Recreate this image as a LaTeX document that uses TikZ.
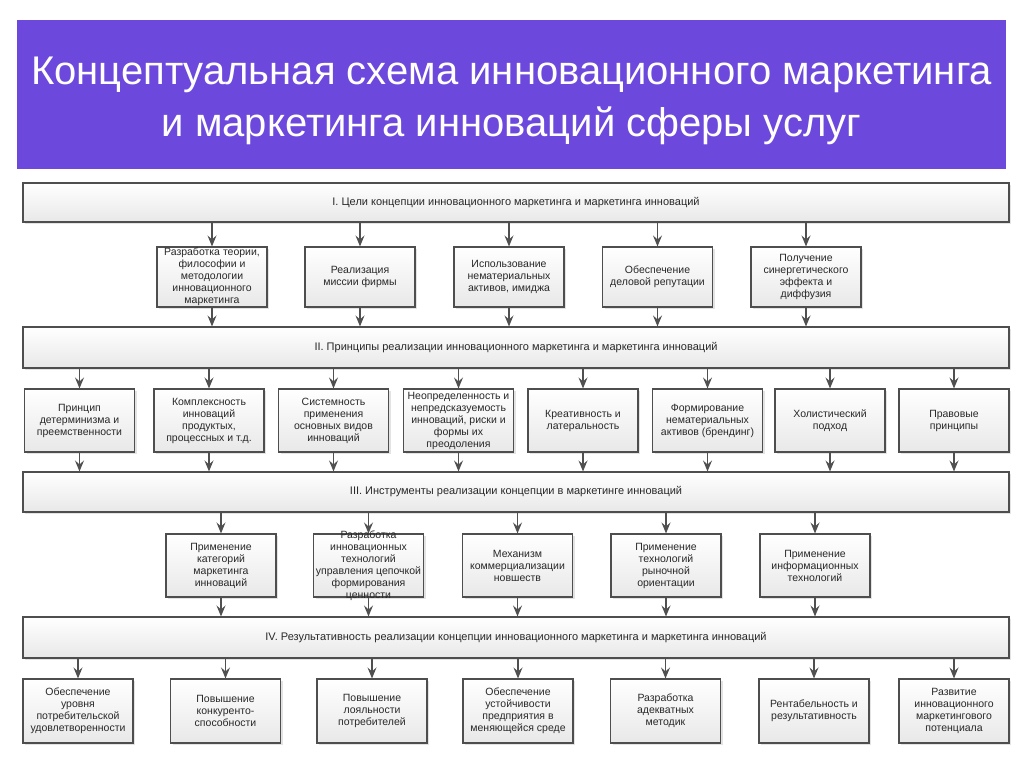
\documentclass[tikz,border=0pt]{standalone}
\usepackage{fontspec}
\setmainfont{Liberation Sans}
\usetikzlibrary{arrows.meta,shadows}
\definecolor{titlebg}{RGB}{108,72,221}
\definecolor{edgec}{RGB}{78,78,78}
\definecolor{arrowc}{RGB}{80,80,80}
\definecolor{txtc}{RGB}{40,40,40}
\begin{document}
\begin{tikzpicture}[x=1pt,y=-1pt,
  bxst/.style={draw=edgec, line width=1.1pt, top color=white, bottom color=black!9,
    drop shadow={shadow xshift=2pt,shadow yshift=-2pt,opacity=0.22},
    minimum width=110pt, minimum height=62pt, inner sep=1pt, align=center,
    font=\fontsize{10.5}{12}\selectfont, text=txtc},
  bandst/.style={bxst, minimum width=986pt, minimum height=40pt, font=\fontsize{11}{12}\selectfont},
  lblst/.style={align=center, font=\fontsize{10.5}{12}\selectfont, text=txtc, inner sep=0pt},
  arrst/.style={draw=arrowc, line width=1.2pt, -{Stealth[length=11pt,width=9pt,inset=4pt]}}
]
\useasboundingbox[fill=white] (0,0) rectangle (1024,768);

% title
\node[fill=titlebg, minimum width=989pt, minimum height=149pt, inner sep=0pt] (title) at (511.5,94.5) {};
\node[text=white, align=center, font=\fontsize{40}{52}\selectfont, inner sep=0pt] (titletext) at (511.5,100.5)
  {Концептуальная схема инновационного маркетинга\\и маркетинга инноваций сферы услуг};

% bands
\node[bandst, minimum height=39pt] (b1) at (516,202.5) {I. Цели концепции инновационного маркетинга и маркетинга инноваций};
\node[bandst, minimum height=41pt] (b2) at (516,347.5) {II. Принципы реализации инновационного маркетинга и маркетинга инноваций};
\node[bandst] (b3) at (516,492) {III. Инструменты реализации концепции в маркетинге инноваций};
\node[bandst, minimum height=41pt] (b4) at (516,637.5) {IV. Результативность реализации концепции инновационного маркетинга и маркетинга инноваций};

% row 1
\node[bxst, minimum height=60pt] (a1) at (212,277) {Разработка теории,\\философии и\\методологии\\инновационного\\маркетинга};
\node[bxst, minimum height=60pt] (a2) at (360,277) {Реализация\\миссии фирмы};
\node[bxst, minimum height=60pt] (a3) at (509,277) {Использование\\нематериальных\\активов, имиджа};
\node[bxst, minimum height=60pt] (a4) at (657.5,277) {Обеспечение\\деловой репутации};
\node[bxst, minimum height=60pt] (a5) at (806,277) {Получение\\синергетического\\эффекта и\\диффузия};

% row 2
\node[bxst, minimum height=63pt] (c1) at (79.5,420.5) {Принцип\\детерминизма и\\преемственности};
\node[bxst, minimum height=63pt] (c2) at (209,420.5) {Комплексность\\инноваций\\продуктых,\\процессных и т.д.};
\node[bxst, minimum height=63pt] (c3) at (333.5,420.5) {Системность\\применения\\основных видов\\инноваций};
\node[bxst, minimum height=63pt] (c4) at (458.5,420.5) {Неопределенность и\\непредсказуемость\\инноваций, риски и\\формы их\\преодоления};
\node[bxst, minimum height=63pt] (c5) at (583,420.5) {Креативность и\\латеральность};
\node[bxst, minimum height=63pt] (c6) at (707.5,420.5) {Формирование\\нематериальных\\активов (брендинг)};
\node[bxst, minimum height=63pt] (c7) at (830,420.5) {Холистический\\подход};
\node[bxst, minimum height=63pt] (c8) at (954,420.5) {Правовые\\принципы};

% row 3
\node[bxst, minimum height=63pt] (d1) at (221,565.5) {Применение\\категорий\\маркетинга\\инноваций};
\node[bxst, minimum height=63pt, label={[lblst]center:Разработка\\инновационных\\технологий\\управления цепочкой\\формирования\\ценности}] (d2) at (368.5,565.5) {};
\node[bxst, minimum height=63pt] (d3) at (517.5,565.5) {Механизм\\коммерциализации\\новшеств};
\node[bxst, minimum height=63pt] (d4) at (666,565.5) {Применение\\технологий\\рыночной\\ориентации};
\node[bxst, minimum height=63pt] (d5) at (815,565.5) {Применение\\информационных\\технологий};

% row 4
\node[bxst, minimum height=64pt] (e1) at (78,711) {Обеспечение\\уровня\\потребительской\\удовлетворенности};
\node[bxst, minimum height=64pt] (e2) at (225.5,711) {Повышение\\конкуренто-\\способности};
\node[bxst, minimum height=64pt] (e3) at (372,711) {Повышение\\лояльности\\потребителей};
\node[bxst, minimum height=64pt] (e4) at (518,711) {Обеспечение\\устойчивости\\предприятия в\\меняющейся среде};
\node[bxst, minimum height=64pt] (e5) at (665.5,711) {Разработка\\адекватных\\методик};
\node[bxst, minimum height=64pt] (e6) at (814,711) {Рентабельность и\\результативность};
\node[bxst, minimum height=64pt] (e7) at (954,711) {Развитие\\инновационного\\маркетингового\\потенциала};

% arrows
\foreach \n in {a1,a2,a3,a4,a5}{
  \draw[arrst] (\n |- b1.south) -- (\n.north);
  \draw[arrst] (\n.south) -- (\n |- b2.north);
}
\foreach \n in {c1,c2,c3,c4,c5,c6,c7,c8}{
  \draw[arrst] (\n |- b2.south) -- (\n.north);
  \draw[arrst] (\n.south) -- (\n |- b3.north);
}
\foreach \n in {d1,d2,d3,d4,d5}{
  \draw[arrst] (\n |- b3.south) -- (\n.north);
  \draw[arrst] (\n.south) -- (\n |- b4.north);
}
\foreach \n in {e1,e2,e3,e4,e5,e6,e7}{
  \draw[arrst] (\n |- b4.south) -- (\n.north);
}
\end{tikzpicture}
\end{document}
